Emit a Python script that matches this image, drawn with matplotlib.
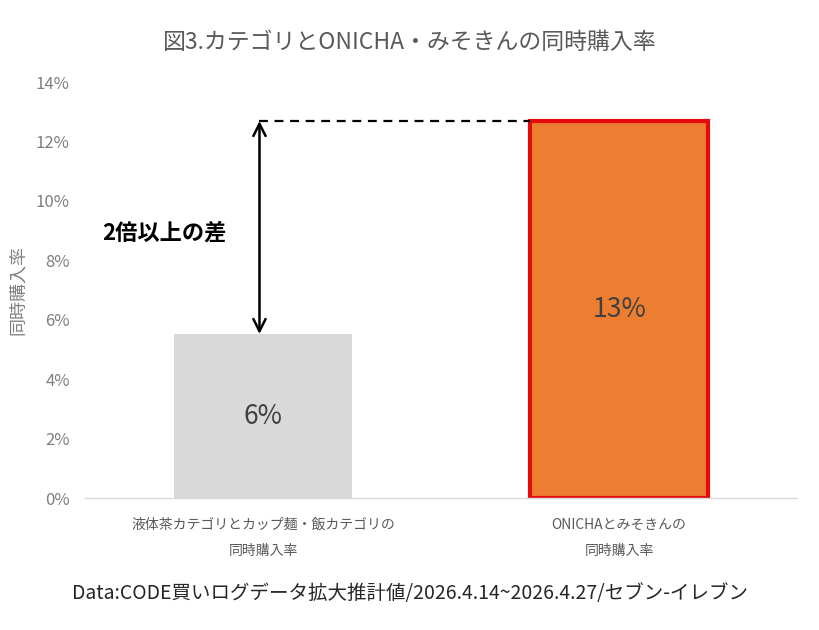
import matplotlib
matplotlib.use("Agg")
import matplotlib.pyplot as plt
import numpy as np

plt.rcParams['font.family'] = ['Noto Sans CJK JP', 'DejaVu Sans']

# data
categories = ["液体茶カテゴリとカップ麺・飯カテゴリの\n同時購入率", "ONICHAとみそきんの\n同時購入率"]
rates = [5.52, 12.69]
bar_colors = ["#d9d9d9", "#ed7d31"]
edge_colors = ["none", "#e30b0b"]
y_ticks = [0, 2, 4, 6, 8, 10, 12, 14]
title = "図3.カテゴリとONICHA・みそきんの同時購入率"
note = "Data:CODE買いログデータ拡大推計値/2026.4.14~2026.4.27/セブン-イレブン"

fig = plt.figure(figsize=(8.2, 6.3), dpi=100)
ax = fig.add_axes([0.1037, 0.2095, 0.8683, 0.6603])

x = np.arange(len(categories))
for i in range(len(x)):
    lw = 3 if edge_colors[i] != "none" else 0
    ax.bar(x[i], rates[i], width=0.5, color=bar_colors[i],
           edgecolor=edge_colors[i], linewidth=lw, zorder=2)
    ax.text(x[i], rates[i] / 2, f"{rates[i]:.0f}%", ha="center", va="center",
            fontsize=19, color="#404040")

ax.set_xlim(-0.5, 1.5)
ax.set_ylim(0, 14)
ax.set_yticks(y_ticks)
ax.set_yticklabels([f"{t}%" for t in y_ticks])
ax.set_xticks(x)
ax.set_xticklabels(categories, fontsize=10, color="#595959", linespacing=2.1)
ax.tick_params(axis="y", length=0, labelsize=12, labelcolor="#7f7f7f", pad=11)
ax.tick_params(axis="x", length=0, pad=14)

for s in ["top", "right", "left"]:
    ax.spines[s].set_visible(False)
ax.spines["bottom"].set_color("#d9d9d9")
ax.spines["bottom"].set_linewidth(1)

ax.set_ylabel("同時購入率", fontsize=13, color="#7f7f7f", labelpad=6)

# difference annotation
arrow_x = -0.01
ax.annotate("", xy=(arrow_x, rates[1]), xytext=(arrow_x, rates[0]),
            arrowprops=dict(arrowstyle="<->", color="black", lw=1.8,
                            mutation_scale=22, shrinkA=0, shrinkB=0))
ax.plot([arrow_x, x[1] - 0.25], [rates[1], rates[1]], color="black",
        linestyle=(0, (4, 3)), linewidth=1.6, zorder=3)
ax.text(-0.278, 8.92, "2倍以上の差", ha="center", va="center",
        fontsize=16, fontweight="bold", color="black")

fig.text(0.5, 0.933, title, ha="center", va="center", fontsize=16.5, color="#595959")
fig.text(0.5, 0.058, note, ha="center", va="center", fontsize=14, color="#262626")

fig.savefig("out.png", dpi=100)
